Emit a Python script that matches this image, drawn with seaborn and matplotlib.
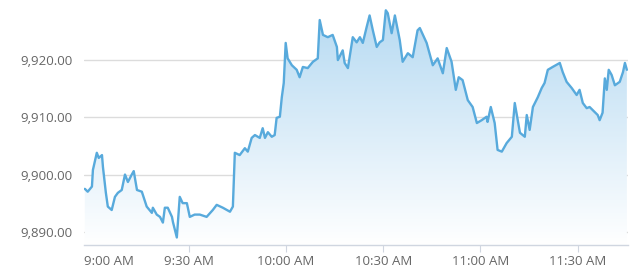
import numpy as np
import pandas as pd
import matplotlib
matplotlib.use("Agg")
import matplotlib.pyplot as plt
import matplotlib.transforms as mtransforms
from matplotlib.colors import LinearSegmentedColormap
import seaborn as sns

# minutes after 9:00 AM and index level
minutes = [-2.1, -1.2, 0.1, 0.4, 1.6, 2.2, 3.2, 3.5, 4.4, 5.0, 6.2, 7.2, 8.1, 9.3,
           10.3, 11.2, 12.4, 13.0, 14.0, 15.5, 17.0, 18.6, 18.9, 20.1, 21.1, 22.0,
           22.6, 23.5, 24.8, 25.1, 26.3, 27.2, 28.1, 29.4, 30.3, 31.8, 33.4, 35.5,
           37.4, 38.6, 40.5, 42.7, 43.6, 44.2, 45.7, 47.3, 48.2, 49.4, 50.4, 51.9,
           52.8, 53.5, 54.4, 55.6, 56.5, 57.1, 58.1, 58.7, 59.3, 59.9, 60.5, 61.8,
           63.3, 64.2, 65.2, 66.7, 68.3, 69.8, 70.4, 71.4, 72.9, 74.4, 75.7, 76.0,
           77.5, 78.1, 79.1, 80.6, 81.8, 82.8, 83.7, 84.9, 85.8, 86.8, 88.0, 88.9,
           89.9, 90.8, 91.4, 92.6, 93.6, 95.1, 96.0, 97.6, 99.1, 100.6, 101.3,
           103.4, 105.3, 106.8, 108.4, 109.6, 111.1, 112.4, 113.3, 114.5, 116.1,
           117.6, 118.9, 120.4, 121.9, 122.2, 123.2, 124.4, 125.3, 126.6, 128.1,
           129.7, 130.6, 132.2, 133.7, 134.3, 135.2, 136.2, 137.7, 138.9, 139.8,
           140.8, 142.3, 144.5, 145.4, 146.6, 148.2, 149.7, 150.6, 151.6, 152.8,
           153.7, 154.6, 156.2, 156.8, 157.7, 158.4, 159.0, 159.6, 160.5, 161.5,
           163.0, 164.0, 164.6, 165.2]
values = [9897.5, 9897.0, 9897.9, 9900.8, 9903.8, 9902.9, 9903.4, 9901.3, 9896.8,
          9894.4, 9893.8, 9896.1, 9896.8, 9897.3, 9900.0, 9898.7, 9900.0, 9900.6,
          9897.3, 9897.0, 9894.4, 9893.3, 9894.2, 9893.0, 9892.6, 9891.6, 9894.2,
          9894.2, 9892.6, 9891.7, 9889.0, 9896.1, 9895.0, 9895.0, 9892.6, 9893.0,
          9893.0, 9892.6, 9893.8, 9894.7, 9894.2, 9893.5, 9894.4, 9903.8, 9903.4,
          9904.6, 9904.0, 9906.4, 9906.9, 9906.4, 9908.1, 9906.4, 9907.4, 9906.6,
          9906.9, 9909.9, 9910.1, 9913.5, 9916.0, 9923.0, 9920.3, 9919.1, 9918.3,
          9917.0, 9918.8, 9918.6, 9919.7, 9920.3, 9927.0, 9924.4, 9924.0, 9924.4,
          9922.3, 9920.0, 9921.7, 9919.5, 9918.6, 9924.0, 9923.1, 9924.0, 9923.0,
          9925.8, 9927.8, 9925.2, 9922.3, 9923.1, 9923.5, 9928.7, 9928.2, 9924.7,
          9927.8, 9923.5, 9919.7, 9921.2, 9920.5, 9925.2, 9925.6, 9923.0, 9919.1,
          9920.3, 9917.7, 9922.1, 9919.7, 9914.8, 9917.0, 9916.5, 9913.0, 9911.8,
          9909.0, 9909.5, 9910.1, 9909.2, 9911.8, 9909.0, 9904.3, 9904.0, 9905.5,
          9906.6, 9912.5, 9907.3, 9906.6, 9910.4, 9907.8, 9911.8, 9913.5, 9915.1,
          9916.0, 9918.3, 9918.8, 9919.5, 9917.9, 9916.2, 9915.1, 9913.9, 9914.8,
          9912.5, 9911.6, 9911.8, 9911.3, 9910.4, 9909.5, 9910.8, 9916.8, 9914.8,
          9918.3, 9917.4, 9915.6, 9916.2, 9917.9, 9919.5, 9918.3]

tick_minutes = [0, 30, 60, 90, 120, 150]
tick_labels = ["9:00 AM", "9:30 AM", "10:00 AM", "10:30 AM", "11:00 AM", "11:30 AM"]
y_ticks = [9890, 9900, 9910, 9920]

LINE_COLOR = "#58aadc"

sns.set_theme(style="white")
plt.rcParams["font.family"] = ["Open Sans", "DejaVu Sans"]

df = pd.DataFrame({"minute": minutes, "value": values})

fig = plt.figure(figsize=(6.4, 2.78), dpi=100)
ax = fig.add_axes([0.131, 0.119, 0.85, 0.881])

x_lo, x_hi = -2.4, 165.5
y_lo, y_hi = 9887.7, 9930.5

# gradient fill under the line, clipped to the area polygon
area = ax.fill_between(df["minute"], df["value"], y_lo, color="none", lw=0)
cmap = LinearSegmentedColormap.from_list("fade", ["#ffffff", "#b6daf2"])
grad = np.linspace(0, 1, 256).reshape(-1, 1)
top = df["value"].max()
img = ax.imshow(grad, cmap=cmap, aspect="auto", origin="lower",
                extent=[x_lo, x_hi, y_lo, top], zorder=1)
img.set_clip_path(area.get_paths()[0], transform=ax.transData)

sns.lineplot(data=df, x="minute", y="value", ax=ax, color=LINE_COLOR,
             linewidth=1.7, zorder=3)

ax.set_xlim(x_lo, x_hi)
ax.set_ylim(y_lo, y_hi)
ax.set_xticks(tick_minutes)
ax.set_xticklabels(tick_labels)
ax.set_yticks(y_ticks)
ax.set_yticklabels([f"{v:,.2f}" for v in y_ticks])
ax.set_xlabel("")
ax.set_ylabel("")

ax.grid(axis="y", color="#dcdcdc", linewidth=1, zorder=0)
ax.grid(axis="x", visible=False)
ax.set_axisbelow(True)
for side in ["top", "right", "left"]:
    ax.spines[side].set_visible(False)
ax.spines["bottom"].set_color("#d0d6e0")
ax.spines["bottom"].set_linewidth(1)

ax.tick_params(axis="x", colors="#666666", labelsize=9.5, length=5, width=0.8,
               direction="out", bottom=True, pad=2)
ax.tick_params(axis="x", color="#d0d6e0")
ax.tick_params(axis="y", colors="#666666", labelsize=9.5, length=0, pad=8)

# first label sits inside the plot area, its tick is hidden
ax.xaxis.get_major_ticks()[0].tick1line.set_visible(False)
first = ax.get_xticklabels()[0]
first.set_transform(first.get_transform() +
                    mtransforms.ScaledTranslation(0.17, 0, fig.dpi_scale_trans))

fig.savefig("out.png", dpi=100, facecolor="white")
